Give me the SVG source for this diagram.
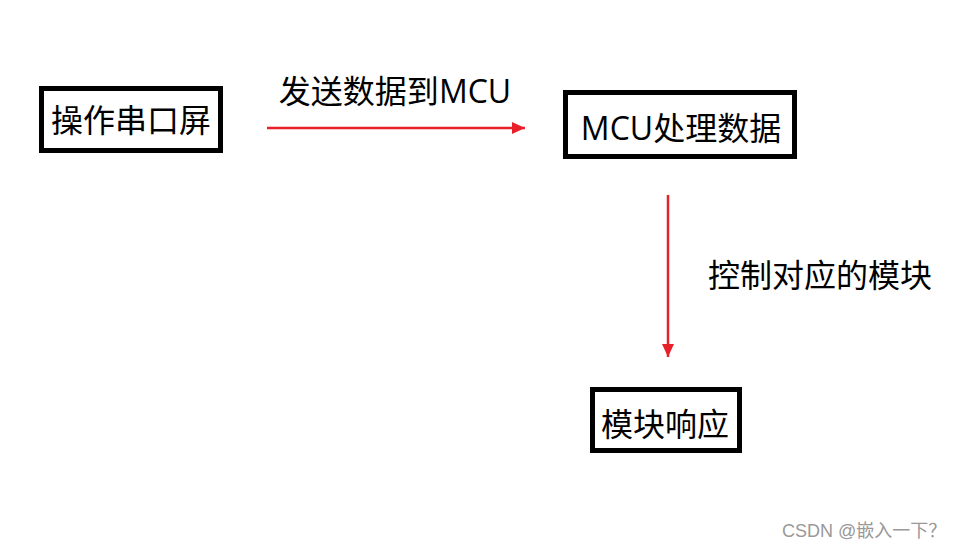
<svg xmlns="http://www.w3.org/2000/svg" width="962" height="553" viewBox="0 0 962 553">
<style>
.box{fill:#fff;stroke:#000;stroke-width:5}
.t{font-family:"Microsoft YaHei","Noto Sans CJK SC","Noto Sans",sans-serif;font-size:32px;fill:#000}
.lat{font-family:"Open Sans","Noto Sans",sans-serif}
.c{stroke:#e8202a;stroke-width:2.5;fill:none}
.wm{font-family:"Liberation Sans","Noto Sans CJK SC",sans-serif;font-size:18px;fill:#999}
</style>
<defs>
<marker id="ah" markerWidth="13" markerHeight="12" refX="13" refY="6" orient="auto" markerUnits="userSpaceOnUse">
<path d="M0,0 L13,6 L0,12 Z" fill="#e8202a"/>
</marker>
</defs>
<rect width="962" height="553" fill="#fff"/>
<g id="node-screen">
<rect class="box" x="41.5" y="88.5" width="179" height="62"/>
<text class="t" x="131" y="132" text-anchor="middle">操作串口屏</text>
</g>
<g id="node-mcu">
<rect class="box" x="565.5" y="92.5" width="229" height="64"/>
<text class="t" x="681" y="140" text-anchor="middle"><tspan class="lat">MCU</tspan>处理数据</text>
</g>
<g id="node-module">
<rect class="box" x="592.5" y="389.5" width="147" height="61"/>
<text class="t" x="665" y="436" text-anchor="middle">模块响应</text>
</g>
<g id="connectors">
<line class="c" x1="267" y1="128" x2="525" y2="128" marker-end="url(#ah)"/>
<text class="t" x="395" y="103" text-anchor="middle">发送数据到<tspan class="lat">MCU</tspan></text>
<line class="c" x1="668" y1="195" x2="668" y2="357" marker-end="url(#ah)"/>
<text class="t" x="820" y="287" text-anchor="middle">控制对应的模块</text>
</g>
<text class="wm" x="782" y="537">CSDN @嵌入一下？</text>
</svg>
